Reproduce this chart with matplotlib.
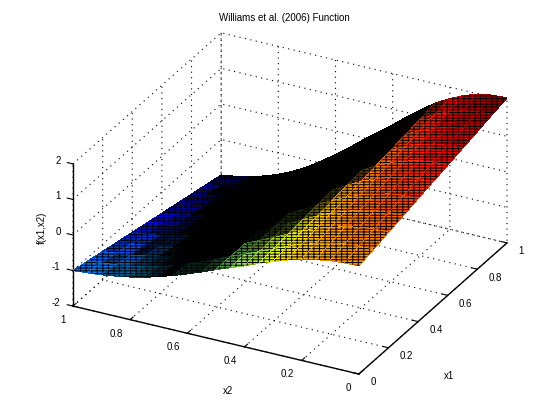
import numpy as np
import matplotlib
matplotlib.use('Agg')
import matplotlib.pyplot as plt
from mpl_toolkits.mplot3d import proj3d

x1_values = [0.0, 0.1, 0.2, 0.3, 0.4, 0.5, 0.6, 0.7, 0.8, 0.9, 1.0]
x2_values = [0.0, 0.05, 0.1, 0.15, 0.2, 0.25, 0.3, 0.35, 0.4, 0.45, 0.5,
             0.55, 0.6, 0.65, 0.7, 0.75, 0.8, 0.85, 0.9, 0.95, 1.0]
# rows: x1, columns: x2
f_values = [
    [1.04, 1.03, 1.00, 0.93, 0.84, 0.73, 0.59, 0.44, 0.28, 0.13, -0.02, -0.18, -0.33, -0.47, -0.60, -0.71, -0.80, -0.87, -0.93, -0.97, -1.00],
    [1.14, 1.13, 1.10, 1.02, 0.92, 0.80, 0.65, 0.48, 0.31, 0.14, -0.02, -0.20, -0.36, -0.52, -0.66, -0.78, -0.88, -0.96, -1.02, -1.07, -1.10],
    [1.25, 1.24, 1.20, 1.12, 1.01, 0.88, 0.71, 0.53, 0.34, 0.16, -0.02, -0.22, -0.40, -0.56, -0.72, -0.85, -0.96, -1.04, -1.12, -1.16, -1.20],
    [1.35, 1.34, 1.30, 1.21, 1.09, 0.95, 0.77, 0.57, 0.36, 0.17, -0.03, -0.23, -0.43, -0.61, -0.78, -0.92, -1.04, -1.13, -1.21, -1.26, -1.30],
    [1.46, 1.44, 1.40, 1.30, 1.18, 1.02, 0.83, 0.62, 0.39, 0.18, -0.03, -0.25, -0.46, -0.66, -0.84, -0.99, -1.12, -1.22, -1.30, -1.36, -1.40],
    [1.56, 1.55, 1.50, 1.40, 1.26, 1.10, 0.89, 0.66, 0.42, 0.20, -0.03, -0.27, -0.50, -0.71, -0.90, -1.07, -1.20, -1.31, -1.40, -1.46, -1.50],
    [1.66, 1.65, 1.60, 1.49, 1.34, 1.17, 0.94, 0.70, 0.45, 0.21, -0.03, -0.29, -0.53, -0.75, -0.96, -1.14, -1.28, -1.39, -1.49, -1.55, -1.60],
    [1.77, 1.75, 1.70, 1.58, 1.43, 1.24, 1.00, 0.75, 0.48, 0.22, -0.03, -0.31, -0.56, -0.80, -1.02, -1.21, -1.36, -1.48, -1.58, -1.65, -1.70],
    [1.87, 1.85, 1.80, 1.67, 1.51, 1.31, 1.06, 0.79, 0.50, 0.23, -0.04, -0.32, -0.59, -0.85, -1.08, -1.28, -1.44, -1.57, -1.67, -1.75, -1.80],
    [1.98, 1.96, 1.90, 1.77, 1.60, 1.39, 1.12, 0.84, 0.53, 0.25, -0.04, -0.34, -0.63, -0.89, -1.14, -1.35, -1.52, -1.65, -1.77, -1.84, -1.90],
    [2.08, 2.06, 2.00, 1.86, 1.68, 1.46, 1.18, 0.88, 0.56, 0.26, -0.04, -0.36, -0.66, -0.94, -1.20, -1.42, -1.60, -1.74, -1.86, -1.94, -2.00],
]
x_ticks = [0, 0.2, 0.4, 0.6, 0.8, 1]
x_ticklabels = ['0', '0.2', '0.4', '0.6', '0.8', '1']
z_ticks = [-2, -1, 0, 1, 2]

plt.rcParams['font.family'] = ['Liberation Sans', 'DejaVu Sans']
plt.rcParams['font.size'] = 7
plt.rcParams['hatch.linewidth'] = 0.7

W, H = 560, 420
fig = plt.figure(figsize=(W / 100, H / 100), dpi=100)
ax = fig.add_axes([0.1, 0.1, 0.8, 0.8], projection='3d', proj_type='ortho')
ax.view_init(elev=27.3, azim=-152.6)
ax.set_box_aspect((322, 322, 160), zoom=1.0)
ax.set_xlim(0, 1)
ax.set_ylim(0, 1)
ax.set_zlim(-2, 2)

X2, X1 = np.meshgrid(np.array(x2_values), np.array(x1_values))
Z = np.array(f_values)


def to_px(a, b, c):
    u, v, _ = proj3d.proj_transform(np.asarray(a, float), np.asarray(b, float), np.asarray(c, float), ax.get_proj())
    return ax.transData.transform(np.column_stack([np.ravel(u), np.ravel(v)]))


target_left = np.array([73.0, H - 306.0])
target_right = np.array([507.0, H - 243.0])
for _ in range(3):
    fig.canvas.draw()
    p = to_px([0, 1], [1, 0], [-2, -2])
    scale = (target_right[0] - target_left[0]) / (p[1, 0] - p[0, 0])
    bb = ax.get_position()
    side = bb.width * W * scale
    cx, cy = bb.x0 * W + bb.width * W / 2, bb.y0 * H + bb.height * H / 2
    mid_now = (p[0] + p[1]) / 2
    mid_new = np.array([cx, cy]) + (mid_now - [cx, cy]) * scale
    shift = (target_left + target_right) / 2 - mid_new
    cx += shift[0]
    cy += shift[1]
    ax.set_position([(cx - side / 2) / W, (cy - side / 2) / H, side / W, side / H])
fig.canvas.draw()

P = to_px(X1.ravel(), X2.ravel(), Z.ravel()).reshape(Z.shape + (2,))
MESH = 100.0
v1 = (P[1:, :-1] - P[:-1, :-1]) / (MESH * 0.1)
v2 = (P[:-1, 1:] - P[:-1, :-1]) / (MESH * 0.05)
area = np.abs(v1[..., 0] * v2[..., 1] - v1[..., 1] * v2[..., 0])
gap1 = area / np.linalg.norm(v1, axis=-1)
gap2 = area / np.linalg.norm(v2, axis=-1)
visible = np.clip(1 - 1 / gap1, 0, 1) * np.clip(1 - 1 / gap2, 0, 1)
bright = np.clip(visible / 0.08, 0, 1)

zc = (Z[1:, 1:] + Z[:-1, 1:] + Z[1:, :-1] + Z[:-1, :-1]) / 4
col = plt.get_cmap('jet')((zc + 2.05) / 4.15)
col[..., :3] *= bright[..., None]
fc = np.zeros(Z.shape + (4,))
fc[..., 3] = 1
fc[:-1, :-1] = col

surf = ax.plot_surface(X1, X2, Z, facecolors=fc, rstride=1, cstride=1, shade=False,
                       linewidth=0, antialiased=False)
surf.set_edgecolor('black')
surf.set_linewidth(0)
surf.set_hatch('-' * 6 + '|' * 3)

for axis in (ax.xaxis, ax.yaxis, ax.zaxis):
    axis.set_pane_color((1, 1, 1, 0))
    axis.pane.set_edgecolor((1, 1, 1, 0))
    axis.line.set_color('black')
    axis.line.set_linewidth(1.0)
    axis._axinfo['grid'].update(color='black', linestyle=(0, (1, 4)), linewidth=0.8)
    axis._axinfo['tick'].update(inward_factor=0.0, outward_factor=0.25)
ax.zaxis._get_tickdir = lambda pos: 1

ax.set_xticks(x_ticks)
ax.set_xticklabels(x_ticklabels, ha='left', va='center')
ax.set_yticks(x_ticks)
ax.set_yticklabels(x_ticklabels, ha='right', va='center')
ax.set_zticks(z_ticks)
ax.set_zticklabels([str(v) for v in z_ticks], ha='right', va='bottom')
ax.tick_params(axis='x', pad=-1, labelsize=7)
ax.tick_params(axis='y', pad=1, labelsize=7)
ax.tick_params(axis='z', pad=-3, labelsize=7)

fig.text(449 / W, 1 - 376 / H, 'x1', ha='center', va='center', fontsize=7)
fig.text(228 / W, 1 - 391 / H, 'x2', ha='center', va='center', fontsize=7)
fig.text(42 / W, 1 - 228 / H, 'f(x1,x2)', ha='center', va='center', rotation=90, fontsize=7)
fig.text(284.5 / W, 1 - 18 / H, 'Williams et al. (2006) Function', ha='center', va='center', fontsize=7)
fig.savefig('out.png', dpi=100)
